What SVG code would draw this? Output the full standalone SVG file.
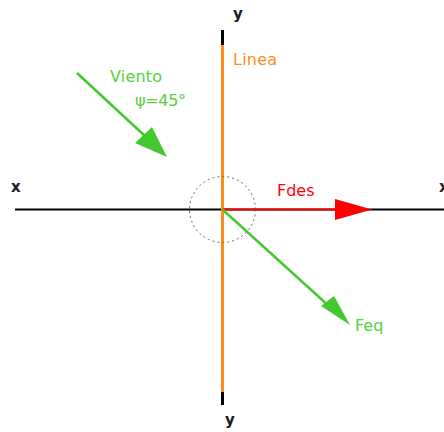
<svg xmlns="http://www.w3.org/2000/svg" width="444" height="432" viewBox="0 0 444 432">
<style>
text{font-family:"DejaVu Sans",Verdana,sans-serif;font-size:16px}
.ax{fill:#1a1a28;font-weight:bold;font-size:15px}
.g{fill:#55d040}
.o{fill:#ff8c1a}
.r{fill:#ff0000}
</style>
<rect width="444" height="432" fill="#ffffff"/>
<g id="connectors">
<line id="x-axis" x1="15" y1="209.5" x2="444" y2="209.5" stroke="#000" stroke-width="2.2"/>
<line id="y-axis" x1="222.5" y1="30" x2="222.5" y2="405" stroke="#000" stroke-width="3"/>
<line id="linea" x1="222.5" y1="45" x2="222.5" y2="392" stroke="#ff8c1a" stroke-width="3"/>
<circle id="angle" cx="222.5" cy="209.5" r="33" fill="none" stroke="#666" stroke-width="1" stroke-dasharray="2,3"/>
<line id="fdes" x1="222.5" y1="209.5" x2="336" y2="209.5" stroke="#ff0000" stroke-width="2"/>
<polygon points="335,199 372,209.5 335,220" fill="#ff0000"/>
<line id="feq" x1="222.5" y1="209.5" x2="330" y2="307" stroke="#44c830" stroke-width="2.5"/>
<polygon points="321,306 334,296 350,325" fill="#44c830"/>
<line id="viento" x1="77" y1="73" x2="146" y2="137" stroke="#44c830" stroke-width="2.5"/>
<polygon points="135,143 152,127 167,157" fill="#44c830"/>
</g>
<g id="labels">
<text class="ax" x="233" y="19">y</text>
<text class="ax" x="225" y="425">y</text>
<text class="ax" x="11" y="192">x</text>
<text class="ax" x="439" y="192">x</text>
<text class="o" x="233" y="65" textLength="44">Linea</text>
<text class="g" x="110" y="82" textLength="52">Viento</text>
<text class="g" x="135" y="106" textLength="51">ψ=45°</text>
<text class="r" x="277" y="196" font-size="17">Fdes</text>
<text class="g" x="355" y="331" font-size="17">Feq</text>
</g>
</svg>
